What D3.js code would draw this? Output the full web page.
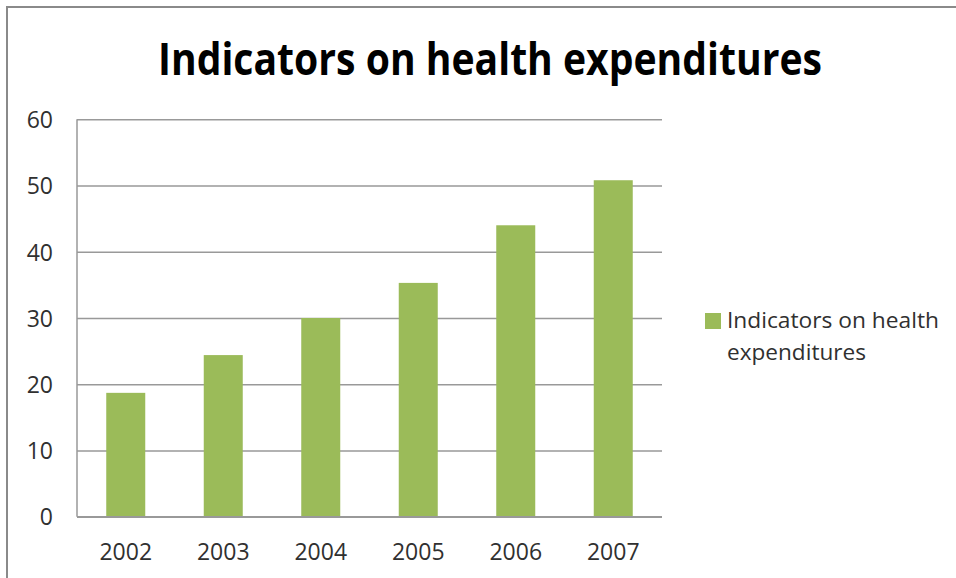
<!DOCTYPE html>
<html>
<head>
<meta charset="utf-8">
<script src="https://cdn.jsdelivr.net/npm/d3@7"></script>
<style>
  html, body { margin: 0; padding: 0; background: #fff; }
  svg { display: block; }
</style>
</head>
<body>
<svg id="chart" width="956" height="578"></svg>
<script>
// Health expenditure indicator by year
const years = ["2002", "2003", "2004", "2005", "2006", "2007"];
const values = [18.7, 24.4, 30.0, 35.3, 44.0, 50.8];
const yTicks = [0, 10, 20, 30, 40, 50, 60];
const chartTitle = "Indicators on health expenditures";
const seriesName = "Indicators on health expenditures";
const legendLines = ["Indicators on health", "expenditures"];

const svg = d3.select("#chart");
const W = 956, H = 578;
const plot = { left: 77, right: 662, top: 119.3, bottom: 516.7 };
const barColor = "#9BBB59";
const gridColor = "#999999";
const textColor = "#303030";
const font = "'Open Sans', 'Noto Sans', sans-serif";

// Outer chart frame (runs off the right and bottom edges)
svg.append("rect")
  .attr("x", 7).attr("y", 7)
  .attr("width", W + 20).attr("height", H + 20)
  .attr("fill", "none")
  .attr("stroke", "#8a8a8a")
  .attr("stroke-width", 2);

const x = d3.scaleBand()
  .domain(years)
  .range([plot.left, plot.right])
  .paddingInner(0.6)
  .paddingOuter(0.3);

const y = d3.scaleLinear()
  .domain([0, 60])
  .range([plot.bottom, plot.top]);

// Horizontal gridlines
const yAxis = d3.axisLeft(y)
  .tickValues(yTicks)
  .tickSize(-(plot.right - plot.left))
  .tickPadding(24)
  .tickFormat(d3.format("d"));

const gy = svg.append("g")
  .attr("transform", `translate(${plot.left},0)`)
  .call(yAxis);
gy.select(".domain").remove();
gy.selectAll(".tick line")
  .attr("stroke", gridColor)
  .attr("stroke-width", 1.5);
gy.selectAll(".tick text")
  .attr("fill", textColor)
  .attr("font-family", font)
  .attr("font-size", 23)
  .attr("dy", "0.36em");

// Left axis line
svg.append("line")
  .attr("x1", plot.left).attr("x2", plot.left)
  .attr("y1", plot.top).attr("y2", plot.bottom)
  .attr("stroke", gridColor)
  .attr("stroke-width", 1.5);

// Bars
svg.append("g")
  .selectAll("rect")
  .data(years.map((yr, i) => ({ yr, v: values[i] })))
  .join("rect")
  .attr("x", d => x(d.yr))
  .attr("y", d => y(d.v))
  .attr("width", x.bandwidth())
  .attr("height", d => y(0) - y(d.v))
  .attr("fill", barColor);

// Baseline drawn over the bars
svg.append("line")
  .attr("x1", plot.left).attr("x2", plot.right)
  .attr("y1", y(0)).attr("y2", y(0))
  .attr("stroke", gridColor)
  .attr("stroke-width", 1.5);

// Category labels
const xAxis = d3.axisBottom(x).tickSize(0).tickPadding(0);
const gx = svg.append("g")
  .attr("transform", `translate(0,${plot.bottom})`)
  .call(xAxis);
gx.select(".domain").remove();
gx.selectAll(".tick text")
  .attr("fill", textColor)
  .attr("font-family", font)
  .attr("font-size", 23)
  .attr("y", 43.5)
  .attr("dy", 0);

// Title
svg.append("text")
  .attr("x", 158)
  .attr("y", 75)
  .attr("font-family", font)
  .attr("font-weight", 700)
  .attr("font-size", 45)
  .attr("fill", "#000")
  .attr("textLength", 664)
  .attr("lengthAdjust", "spacingAndGlyphs")
  .text(chartTitle);

// Legend
const legend = svg.append("g").attr("class", "legend");
legend.append("rect")
  .attr("x", 705).attr("y", 313)
  .attr("width", 16).attr("height", 16)
  .attr("fill", barColor);
const legendWidths = [212, 139];
legend.selectAll("text")
  .data(legendLines)
  .join("text")
  .attr("x", 727)
  .attr("y", (d, i) => 328 + i * 31.5)
  .attr("font-family", font)
  .attr("font-size", 22.5)
  .attr("fill", textColor)
  .attr("textLength", (d, i) => legendWidths[i])
  .attr("lengthAdjust", "spacingAndGlyphs")
  .text(d => d);
legend.append("title").text(seriesName);
</script>
</body>
</html>
